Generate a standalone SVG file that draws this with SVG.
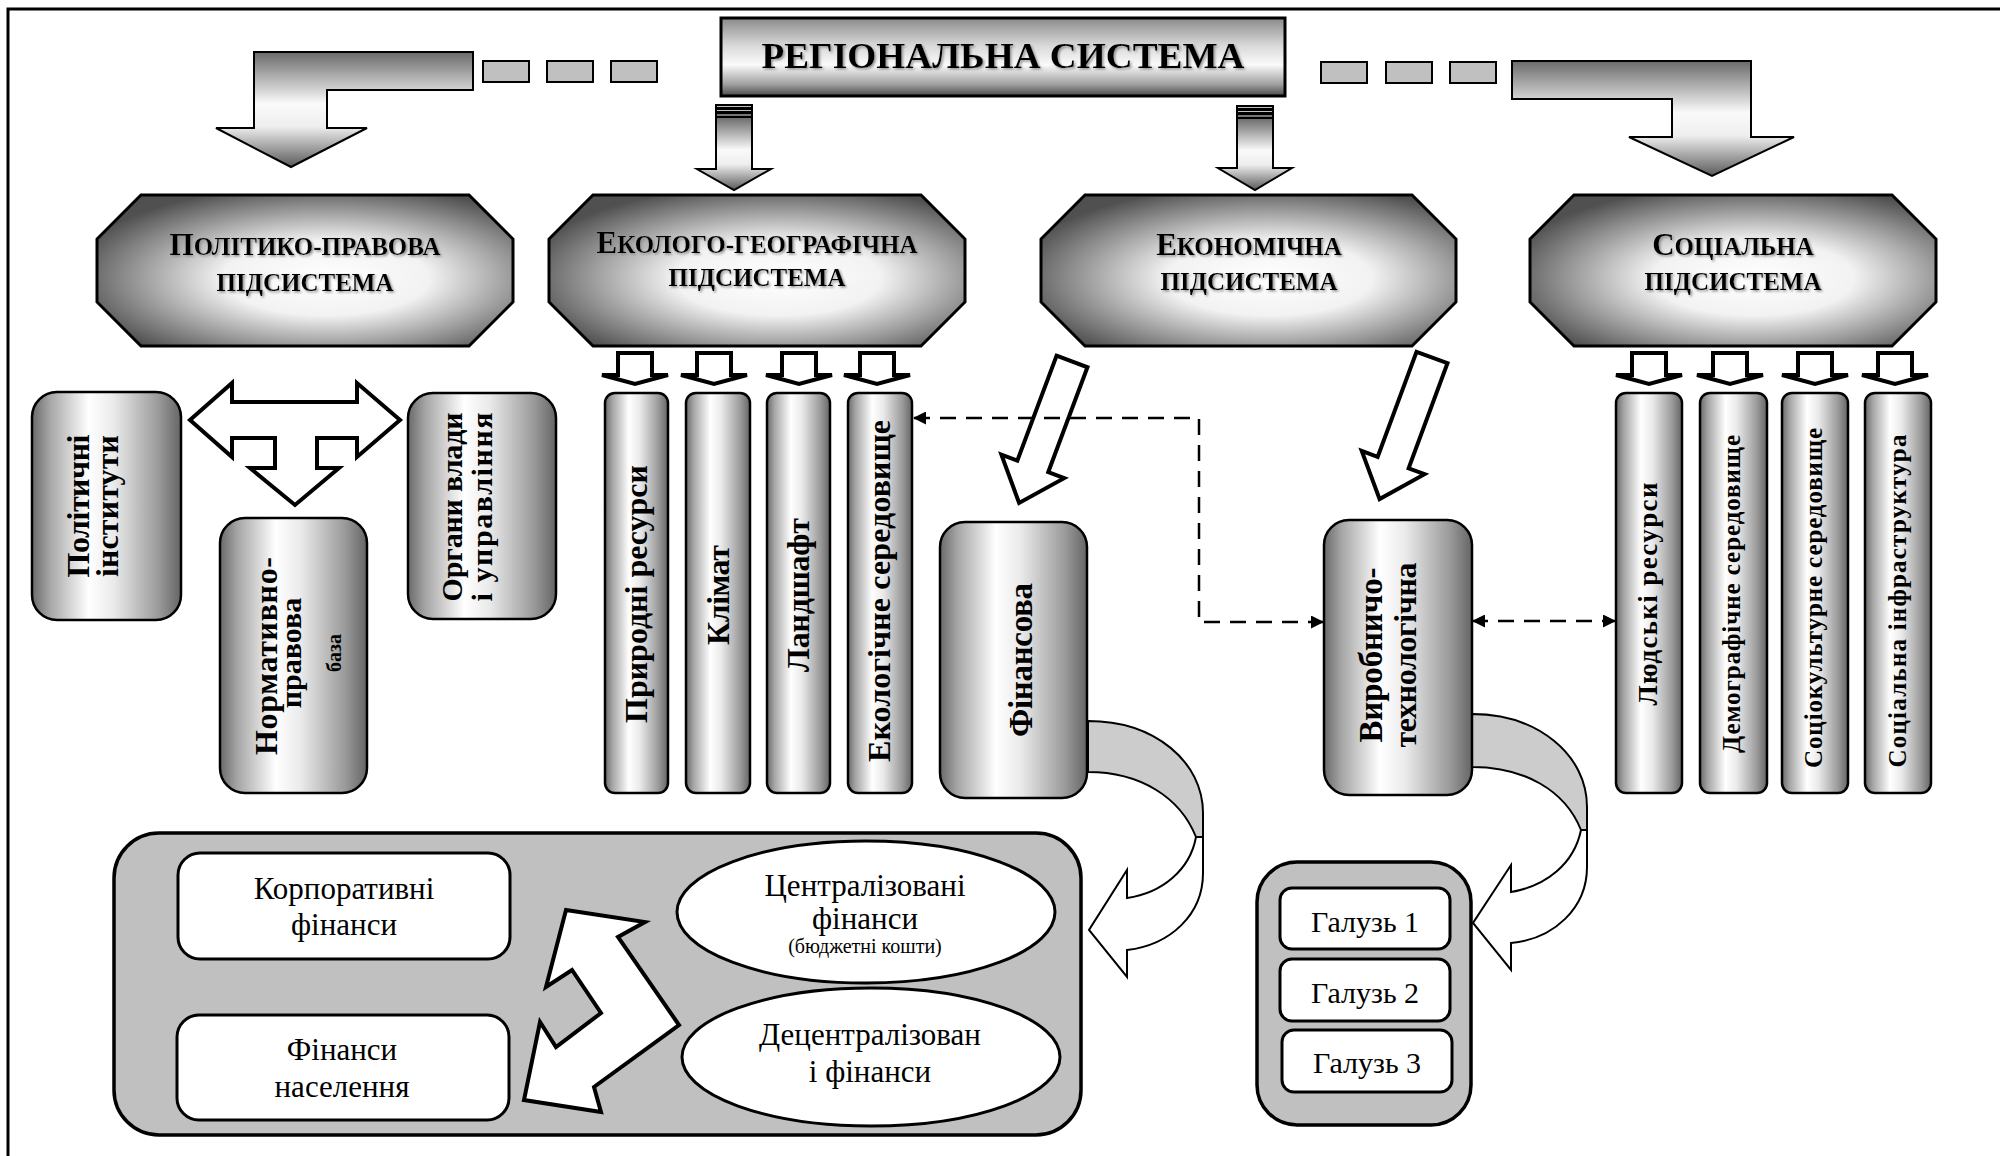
<svg xmlns="http://www.w3.org/2000/svg" width="2000" height="1156" viewBox="0 0 2000 1156">
<defs>
  <radialGradient id="gOct" cx="0.55" cy="0.55" r="0.62">
    <stop offset="0" stop-color="#ffffff"/>
    <stop offset="0.4" stop-color="#f2f2f2"/>
    <stop offset="1" stop-color="#505050"/>
  </radialGradient>
  <linearGradient id="gCyl" x1="0" y1="0" x2="1" y2="0">
    <stop offset="0" stop-color="#6a6a6a"/>
    <stop offset="0.12" stop-color="#a6a6a6"/>
    <stop offset="0.38" stop-color="#ffffff"/>
    <stop offset="0.55" stop-color="#eaeaea"/>
    <stop offset="0.85" stop-color="#9a9a9a"/>
    <stop offset="1" stop-color="#656565"/>
  </linearGradient>
  <linearGradient id="gTitle" x1="0" y1="0" x2="0" y2="1">
    <stop offset="0" stop-color="#8a8a8a"/>
    <stop offset="0.35" stop-color="#d8d8d8"/>
    <stop offset="0.6" stop-color="#fafafa"/>
    <stop offset="0.85" stop-color="#a0a0a0"/>
    <stop offset="1" stop-color="#4a4a4a"/>
  </linearGradient>
  <linearGradient id="gArr" x1="0" y1="0" x2="0" y2="1">
    <stop offset="0" stop-color="#6a6a6a"/>
    <stop offset="0.45" stop-color="#fafafa"/>
    <stop offset="0.65" stop-color="#eeeeee"/>
    <stop offset="1" stop-color="#5a5a5a"/>
  </linearGradient>
  <filter id="sh" x="-5%" y="-30%" width="110%" height="160%">
    <feDropShadow dx="1.5" dy="1.5" stdDeviation="1" flood-color="#909090"/>
  </filter>
  <marker id="ah" viewBox="0 0 10 10" refX="10" refY="5" markerWidth="13" markerHeight="13" markerUnits="userSpaceOnUse" orient="auto-start-reverse">
    <path d="M0,0 L10,5 L0,10 Z" fill="#000"/>
  </marker>
</defs>
<style>
  .oct{fill:url(#gOct);stroke:#000;stroke-width:3}
  .cyl{fill:url(#gCyl);stroke:#000;stroke-width:2.5}
  .hd{font-family:"Liberation Serif","Times New Roman",serif;font-weight:bold;fill:#000}
  .rg{font-family:"Liberation Serif","Times New Roman",serif;fill:#000}
  .wbox{fill:#fff;stroke:#000;stroke-width:3}
  .cont{fill:#c0c0c0;stroke:#000;stroke-width:3.5}
  .hollow{fill:#fff;stroke:#000;stroke-width:4}
  .dash{fill:none;stroke:#000;stroke-width:2.5;stroke-dasharray:16 10}
  .sq{fill:#c0c0c0;stroke:#000;stroke-width:2}
  .garr{fill:url(#gArr);stroke:#000;stroke-width:2}
  .back{fill:#cccccc;stroke:#000;stroke-width:2}
  .front{fill:#fff;stroke:#000;stroke-width:2}
</style>

<path d="M8,1156 V9 H2000" fill="none" stroke="#000" stroke-width="3"/>

<g id="connectors">
  <rect class="sq" x="483" y="61" width="46" height="21"/>
  <rect class="sq" x="547" y="61" width="46" height="21"/>
  <rect class="sq" x="611" y="61" width="46" height="21"/>
  <rect class="sq" x="1321" y="62" width="46" height="21"/>
  <rect class="sq" x="1386" y="62" width="46" height="21"/>
  <rect class="sq" x="1450" y="62" width="46" height="21"/>
  <polygon class="garr" points="254,52 473,52 473,90 327,90 327,128 367,128 291,167 216,128 254,128"/>
  <polygon class="garr" points="1512,61 1751,61 1751,137 1794,137 1712,176 1629,137 1672,137 1672,99 1512,99"/>
  <g>
    <rect class="sq" x="716" y="105" width="36" height="3"/>
    <rect class="sq" x="716" y="109" width="36" height="3"/>
    <rect class="sq" x="716" y="113" width="36" height="4" style="fill:#777"/>
    <polygon class="garr" points="716,117 752,117 752,169 771,169 734,190 697,169 716,169"/>
  </g>
  <g>
    <rect class="sq" x="1237" y="106" width="36" height="3"/>
    <rect class="sq" x="1237" y="110" width="36" height="3"/>
    <rect class="sq" x="1237" y="114" width="36" height="4" style="fill:#777"/>
    <polygon class="garr" points="1237,118 1273,118 1273,168 1292,168 1255,190 1218,168 1237,168"/>
  </g>
  <polygon class="hollow" points="618,353 652,353 652,375 668,375 635,384 602,375 618,375"/>
  <polygon class="hollow" points="697,353 731,353 731,375 747,375 714,384 681,375 697,375"/>
  <polygon class="hollow" points="782,353 816,353 816,375 832,375 799,384 766,375 782,375"/>
  <polygon class="hollow" points="860,353 894,353 894,375 910,375 877,384 844,375 860,375"/>
  <polygon class="hollow" points="1632,353 1666,353 1666,375 1682,375 1649,384 1616,375 1632,375"/>
  <polygon class="hollow" points="1713,353 1747,353 1747,375 1763,375 1730,384 1697,375 1713,375"/>
  <polygon class="hollow" points="1798,353 1832,353 1832,375 1848,375 1815,384 1782,375 1798,375"/>
  <polygon class="hollow" points="1878,353 1912,353 1912,375 1928,375 1895,384 1862,375 1878,375"/>
  <polygon class="hollow" points="190,420 232,383 232,402 357,402 357,383 400,420 357,457 357,438 317,438 317,468 339,468 295,505 250,468 275,468 275,438 232,438 232,457"/>
  <polygon class="hollow" transform="translate(1072,361.5) rotate(20.5)" points="-16.5,0 16.5,0 16.5,112 33.5,112 0,151 -33.5,112 -16.5,112"/>
  <polygon class="hollow" transform="translate(1432,357.5) rotate(20.3)" points="-16.5,0 16.5,0 16.5,112 33.5,112 0,151 -33.5,112 -16.5,112"/>
  <path class="dash" d="M1324,622 H1199 V418 H913" marker-start="url(#ah)" marker-end="url(#ah)"/>
  <path class="dash" d="M1472,621 H1616" marker-start="url(#ah)" marker-end="url(#ah)"/>
  <path class="back" d="M1088,721 C1155,721 1203,762 1203,813 L1203,837 L1196,837 C1180,797 1140,772 1088,772 Z"/>
  <path class="front" d="M1196,837 L1203,837 L1203,873 C1203,915 1170,945 1127,950 L1127,977 L1089,930 L1127,870 L1127,898 C1162,893 1190,870 1196,837 Z"/>
  <path class="back" d="M1472,714 C1538,714 1587,755 1587,807 L1587,830 L1581,830 C1565,790 1524,767 1472,767 Z"/>
  <path class="front" d="M1581,830 L1587,830 L1587,867 C1587,908 1554,939 1511,943 L1511,970 L1473,923 L1511,865 L1511,892 C1546,886 1574,864 1581,830 Z"/>
</g>

<g id="title">
  <rect x="721" y="18" width="564" height="78" fill="url(#gTitle)" stroke="#000" stroke-width="3"/>
  <text class="hd" x="1003" y="68" font-size="35" text-anchor="middle" textLength="483" lengthAdjust="spacingAndGlyphs" filter="url(#sh)">РЕГІОНАЛЬНА СИСТЕМА</text>
</g>

<g id="oct-political">
  <polygon class="oct" points="141,195 469,195 513,239 513,302 469,346 141,346 97,302 97,239"/>
  <text class="hd" text-anchor="middle" filter="url(#sh)"><tspan x="305" y="255" font-size="31">П</tspan><tspan font-size="25">ОЛІТИКО-ПРАВОВА</tspan><tspan x="305" y="291" font-size="25">ПІДСИСТЕМА</tspan></text>
</g>
<g id="oct-eco">
  <polygon class="oct" points="593,195 921,195 965,239 965,302 921,346 593,346 549,302 549,239"/>
  <text class="hd" text-anchor="middle" filter="url(#sh)"><tspan x="757" y="253" font-size="31">Е</tspan><tspan font-size="25">КОЛОГО-ГЕОГРАФІЧНА</tspan><tspan x="757" y="286" font-size="25">ПІДСИСТЕМА</tspan></text>
</g>
<g id="oct-econ">
  <polygon class="oct" points="1085,195 1412,195 1456,239 1456,302 1412,346 1085,346 1041,302 1041,239"/>
  <text class="hd" text-anchor="middle" filter="url(#sh)"><tspan x="1249" y="255" font-size="31">Е</tspan><tspan font-size="25">КОНОМІЧНА</tspan><tspan x="1249" y="290" font-size="25">ПІДСИСТЕМА</tspan></text>
</g>
<g id="oct-social">
  <polygon class="oct" points="1574,195 1892,195 1936,239 1936,302 1892,346 1574,346 1530,302 1530,239"/>
  <text class="hd" text-anchor="middle" filter="url(#sh)"><tspan x="1733" y="255" font-size="31">С</tspan><tspan font-size="25">ОЦІАЛЬНА</tspan><tspan x="1733" y="290" font-size="25">ПІДСИСТЕМА</tspan></text>
</g>

<g id="pol-institutes">
  <rect class="cyl" x="32" y="392" width="149" height="228" rx="25"/>
  <text class="hd" font-size="32" text-anchor="middle" transform="translate(89,506) rotate(-90)" textLength="143">Політичні</text>
  <text class="hd" font-size="32" text-anchor="middle" transform="translate(118,506) rotate(-90)" textLength="142">інститути</text>
</g>
<g id="pol-organs">
  <rect class="cyl" x="408" y="393" width="148" height="226" rx="25"/>
  <text class="hd" font-size="30" text-anchor="middle" transform="translate(462,507) rotate(-90)" textLength="189">Органи влади</text>
  <text class="hd" font-size="30" text-anchor="middle" transform="translate(492,507) rotate(-90)" textLength="189">і управління</text>
</g>
<g id="pol-normative">
  <rect class="cyl" x="220" y="518" width="147" height="275" rx="25"/>
  <text class="hd" font-size="32" text-anchor="middle" transform="translate(277,656) rotate(-90)" textLength="198">Нормативно-</text>
  <text class="hd" font-size="30" text-anchor="middle" transform="translate(301,653) rotate(-90)">правова</text>
  <text class="hd" font-size="20" text-anchor="middle" transform="translate(341,653) rotate(-90)">база</text>
</g>

<g id="eco-resources">
  <rect class="cyl" x="605" y="393" width="63" height="400" rx="10"/>
  <text class="hd" font-size="32" text-anchor="middle" transform="translate(647,594) rotate(-90)" textLength="258">Природні ресурси</text>
</g>
<g id="eco-climate">
  <rect class="cyl" x="686" y="393" width="64" height="400" rx="10"/>
  <text class="hd" font-size="32" text-anchor="middle" transform="translate(729,595) rotate(-90)" textLength="100">Клімат</text>
</g>
<g id="eco-landscape">
  <rect class="cyl" x="767" y="393" width="63" height="400" rx="10"/>
  <text class="hd" font-size="32" text-anchor="middle" transform="translate(809,595) rotate(-90)" textLength="154">Ландшафт</text>
</g>
<g id="eco-environment">
  <rect class="cyl" x="848" y="393" width="64" height="400" rx="10"/>
  <text class="hd" font-size="32" text-anchor="middle" transform="translate(890,591) rotate(-90)" textLength="342">Екологічне середовище</text>
</g>

<g id="finance">
  <rect class="cyl" x="940" y="522" width="147" height="276" rx="25"/>
  <text class="hd" font-size="33" text-anchor="middle" transform="translate(1032,660) rotate(-90)" textLength="154">Фінансова</text>
</g>
<g id="production">
  <rect class="cyl" x="1324" y="520" width="148" height="275" rx="25"/>
  <text class="hd" font-size="33" text-anchor="middle" transform="translate(1382,655) rotate(-90)" textLength="175">Виробничо-</text>
  <text class="hd" font-size="32" text-anchor="middle" transform="translate(1416,655) rotate(-90)" textLength="185">технологічна</text>
</g>

<g id="soc-human">
  <rect class="cyl" x="1616" y="393" width="66" height="400" rx="10"/>
  <text class="hd" font-size="27" text-anchor="middle" transform="translate(1657,594) rotate(-90)" textLength="223">Людські ресурси</text>
</g>
<g id="soc-demo">
  <rect class="cyl" x="1700" y="393" width="67" height="400" rx="10"/>
  <text class="hd" font-size="25" text-anchor="middle" transform="translate(1740,594) rotate(-90)" textLength="318">Демографічне середовище</text>
</g>
<g id="soc-culture">
  <rect class="cyl" x="1782" y="393" width="66" height="400" rx="10"/>
  <text class="hd" font-size="25" text-anchor="middle" transform="translate(1822,598) rotate(-90)" textLength="340">Соціокультурне середовище</text>
</g>
<g id="soc-infra">
  <rect class="cyl" x="1865" y="393" width="66" height="400" rx="10"/>
  <text class="hd" font-size="25" text-anchor="middle" transform="translate(1906,601) rotate(-90)" textLength="333">Соціальна  інфраструктура</text>
</g>

<g id="finance-container">
  <rect class="cont" x="114" y="833" width="967" height="302" rx="45"/>
  <g id="fin-corporate">
    <rect class="wbox" x="178" y="853" width="332" height="106" rx="22"/>
    <text class="rg" font-size="31" text-anchor="middle"><tspan x="344" y="899">Корпоративні</tspan><tspan x="344" y="935">фінанси</tspan></text>
  </g>
  <g id="fin-population">
    <rect class="wbox" x="177" y="1015" width="332" height="105" rx="22"/>
    <text class="rg" font-size="31" text-anchor="middle"><tspan x="342" y="1060">Фінанси</tspan><tspan x="342" y="1097">населення</tspan></text>
  </g>
  <g id="fin-central">
    <ellipse class="wbox" cx="866" cy="912" rx="189" ry="71"/>
    <text class="rg" text-anchor="middle"><tspan x="865" y="896" font-size="31">Централізовані</tspan><tspan x="865" y="929" font-size="31">фінанси</tspan><tspan x="865" y="953" font-size="20">(бюджетні кошти)</tspan></text>
  </g>
  <g id="fin-decentral">
    <ellipse class="wbox" cx="871" cy="1057" rx="189" ry="69"/>
    <text class="rg" font-size="31" text-anchor="middle"><tspan x="870" y="1045">Децентралізован</tspan><tspan x="870" y="1082">і фінанси</tspan></text>
  </g>
  <polygon class="hollow" points="566,910 645,922 618,937 679,1025 594,1087 601,1112 524,1100 540,1022 556,1047 601,1013 572,970 546,987"/>
</g>

<g id="industry-container">
  <rect class="cont" x="1257" y="862" width="214" height="263" rx="40"/>
  <g id="ind-1">
    <rect class="wbox" x="1280" y="888" width="170" height="61" rx="12"/>
    <text class="rg" font-size="30" x="1365" y="932" text-anchor="middle">Галузь 1</text>
  </g>
  <g id="ind-2">
    <rect class="wbox" x="1280" y="959" width="170" height="62" rx="12"/>
    <text class="rg" font-size="30" x="1365" y="1003" text-anchor="middle">Галузь 2</text>
  </g>
  <g id="ind-3">
    <rect class="wbox" x="1282" y="1030" width="170" height="62" rx="12"/>
    <text class="rg" font-size="30" x="1367" y="1073" text-anchor="middle">Галузь 3</text>
  </g>
</g>
</svg>
